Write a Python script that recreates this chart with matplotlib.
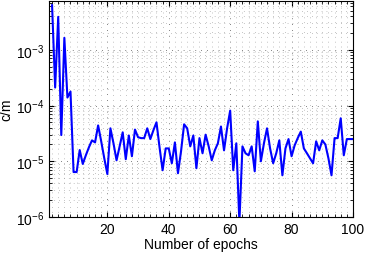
import numpy as np
import matplotlib
matplotlib.use("Agg")
import matplotlib.pyplot as plt
from matplotlib.ticker import MultipleLocator, LogLocator

plt.rcParams['font.family'] = ['Liberation Sans', 'DejaVu Sans']
plt.rcParams['mathtext.default'] = 'regular'

epochs = np.arange(2, 101)
cm = [6.3e-3, 2.1e-4, 3.9e-3, 2.95e-5, 1.64e-3, 1.39e-4, 1.78e-4, 6.4e-6, 6.4e-6,
      1.59e-5, 8.95e-6, 1.28e-5, 1.78e-5, 2.37e-5, 2.18e-5, 4.4e-5, 2.28e-5, 1.13e-5,
      5.9e-6, 3.9e-5, 2.1e-5, 1.04e-5, 1.85e-5, 3.3e-5, 1.09e-5, 2.9e-5, 1.23e-5,
      3.7e-5, 2.7e-5, 2.6e-5, 2.6e-5, 3.9e-5, 2.5e-5, 3.6e-5, 5.0e-5, 1.78e-5,
      6.9e-6, 1.7e-5, 1.7e-5, 9.2e-6, 2.18e-5, 6.1e-6, 1.51e-5, 4.6e-5, 3.9e-5,
      1.85e-5, 2.9e-5, 7.5e-6, 2.6e-5, 1.39e-5, 3.0e-5, 1.85e-5, 1.04e-5, 1.57e-5,
      2.1e-5, 4.2e-5, 1.57e-5, 3.9e-5, 8.1e-5, 6.9e-6, 2.1e-5, 8e-7, 1.85e-5,
      1.39e-5, 1.28e-5, 1.85e-5, 6.6e-6, 5.2e-5, 1.0e-5, 2.1e-5, 3.9e-5, 1.7e-5,
      9.2e-6, 1.39e-5, 2.37e-5, 5.6e-6, 1.7e-5, 2.5e-5, 1.23e-5, 1.93e-5, 2.6e-5,
      3.4e-5, 1.7e-5, 1.39e-5, 1.13e-5, 9.2e-6, 2.28e-5, 1.57e-5, 2.37e-5, 2.0e-5,
      1.13e-5, 5.6e-6, 2.6e-5, 2.6e-5, 5.9e-5, 1.28e-5, 2.5e-5, 2.5e-5, 2.5e-5]

fig = plt.figure(figsize=(3.65, 2.55), dpi=100)
ax = fig.add_axes([49/365, 37/255, 304/365, 216/255])
ax.semilogy(epochs, cm, color=(0, 0, 1), lw=1.5)

ax.set_xlim(1, 100)
ax.set_ylim(1e-6, 7.5e-3)
ax.xaxis.set_minor_locator(MultipleLocator(2))
ax.yaxis.set_major_locator(LogLocator(base=10, numticks=10))
ax.yaxis.set_minor_locator(LogLocator(base=10, subs=np.arange(2, 10), numticks=20))
ax.set_xticks([20, 40, 60, 80, 100])

ax.grid(True, which='major', ls=(0, (1, 6)), color='0.35', lw=0.6)
ax.grid(True, which='minor', ls=(0, (1, 6)), color='0.55', lw=0.5)
ax.tick_params(which='both', direction='in', top=True, right=True, labelsize=10)
ax.tick_params(which='major', length=3.5)
ax.tick_params(which='minor', length=2)
ax.yaxis.set_minor_formatter(plt.NullFormatter())
for s in ax.spines.values():
    s.set_linewidth(0.8)

ax.set_xlabel('Number of epochs', fontsize=10, labelpad=1)
ax.set_ylabel('c/m', fontsize=10, labelpad=2)

fig.savefig('out.png', dpi=100)
